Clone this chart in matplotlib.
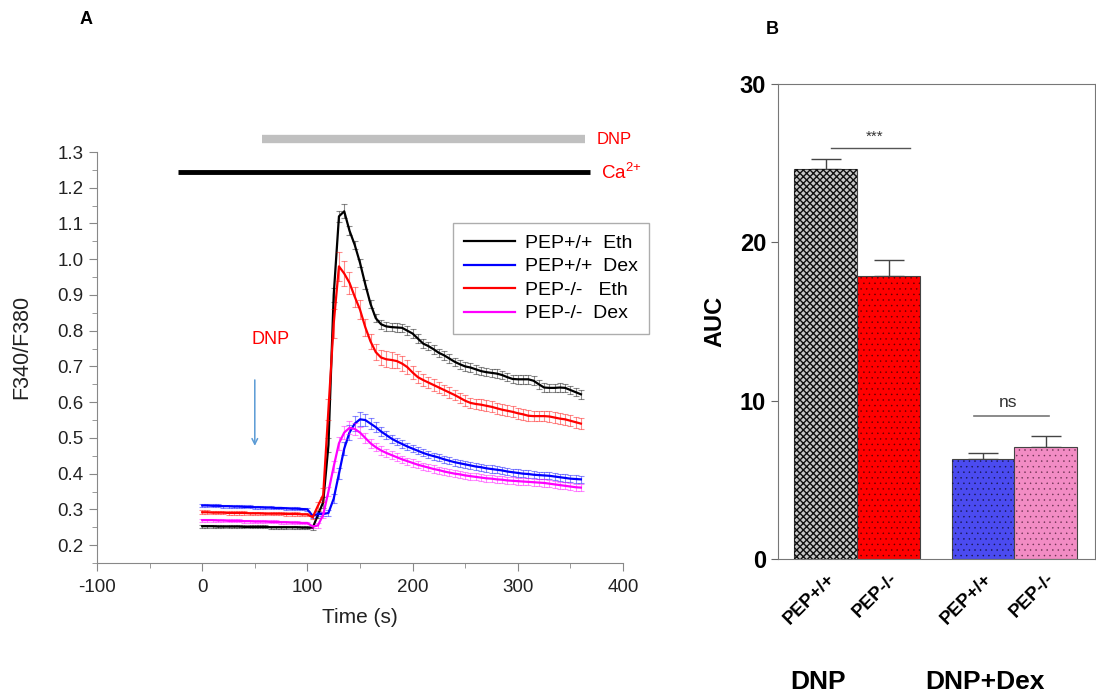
import matplotlib
matplotlib.use('Agg')
import matplotlib.pyplot as plt
from matplotlib.ticker import MultipleLocator

plt.rcParams['font.family'] = ['Liberation Sans', 'DejaVu Sans']
plt.rcParams['axes.unicode_minus'] = False

# ---- panel A: Fura-2 ratio traces ----
time_s = [0, 5, 10, 15, 20, 25, 30, 35, 40, 45, 50, 55, 60, 65, 70, 75, 80, 85, 90, 95, 100,
          105, 110, 115, 120, 125, 130, 135, 140, 145, 150, 155, 160, 165, 170, 175, 180, 185,
          190, 195, 200, 205, 210, 215, 220, 225, 230, 235, 240, 245, 250, 255, 260, 265, 270,
          275, 280, 285, 290, 295, 300, 305, 310, 315, 320, 325, 330, 335, 340, 345, 350, 355, 360]

wt_eth = [0.253, 0.253, 0.253, 0.252, 0.252, 0.252, 0.252, 0.252, 0.251, 0.251, 0.251, 0.251, 0.251,
          0.250, 0.250, 0.250, 0.250, 0.250, 0.250, 0.249, 0.249,
          0.248, 0.285, 0.320, 0.480, 0.900, 1.120, 1.134, 1.080, 1.040, 0.990,
          0.930, 0.875, 0.835, 0.818, 0.812, 0.810, 0.809, 0.808, 0.800, 0.792,
          0.778, 0.764, 0.757, 0.748, 0.738, 0.731, 0.722, 0.713, 0.706, 0.700,
          0.697, 0.692, 0.687, 0.684, 0.682, 0.680, 0.676, 0.670, 0.665, 0.664,
          0.664, 0.664, 0.660, 0.650, 0.641, 0.640, 0.640, 0.641, 0.640, 0.634,
          0.628, 0.622]
wt_dex = [0.311, 0.311, 0.310, 0.310, 0.309, 0.309, 0.308, 0.308, 0.307, 0.307, 0.306, 0.306, 0.305,
          0.305, 0.304, 0.304, 0.303, 0.302, 0.302, 0.301, 0.300,
          0.282, 0.287, 0.287, 0.290, 0.330, 0.400, 0.470, 0.515, 0.540, 0.552,
          0.550, 0.540, 0.530, 0.518, 0.508, 0.498, 0.490, 0.483, 0.476, 0.470,
          0.464, 0.458, 0.453, 0.449, 0.445, 0.440, 0.436, 0.432, 0.429, 0.426,
          0.423, 0.420, 0.418, 0.415, 0.413, 0.411, 0.409, 0.406, 0.404, 0.402,
          0.400, 0.399, 0.397, 0.396, 0.395, 0.394, 0.392, 0.390, 0.388, 0.386,
          0.385, 0.384]
ko_eth = [0.292, 0.292, 0.291, 0.291, 0.291, 0.290, 0.290, 0.290, 0.290, 0.289, 0.289, 0.289, 0.288,
          0.288, 0.288, 0.288, 0.287, 0.287, 0.287, 0.286, 0.286,
          0.278, 0.310, 0.340, 0.580, 0.820, 0.980, 0.960, 0.934, 0.895, 0.859,
          0.810, 0.770, 0.740, 0.725, 0.720, 0.718, 0.715, 0.708, 0.698, 0.683,
          0.670, 0.662, 0.655, 0.648, 0.641, 0.634, 0.627, 0.620, 0.612, 0.604,
          0.598, 0.595, 0.593, 0.590, 0.587, 0.583, 0.579, 0.576, 0.573, 0.569,
          0.566, 0.562, 0.561, 0.561, 0.561, 0.560, 0.557, 0.554, 0.552, 0.548,
          0.544, 0.540]
ko_dex = [0.270, 0.270, 0.270, 0.269, 0.269, 0.268, 0.268, 0.268, 0.267, 0.267, 0.266, 0.266, 0.266,
          0.265, 0.265, 0.264, 0.264, 0.263, 0.263, 0.262, 0.262,
          0.252, 0.255, 0.285, 0.350, 0.420, 0.485, 0.515, 0.528, 0.525, 0.515,
          0.500, 0.485, 0.474, 0.465, 0.458, 0.452, 0.446, 0.440, 0.435, 0.430,
          0.425, 0.421, 0.417, 0.413, 0.410, 0.406, 0.403, 0.400, 0.398, 0.395,
          0.393, 0.391, 0.389, 0.387, 0.386, 0.384, 0.383, 0.381, 0.380, 0.379,
          0.378, 0.377, 0.376, 0.375, 0.374, 0.372, 0.370, 0.368, 0.366, 0.364,
          0.362, 0.361]

# SEM
wt_eth_err = [0.004, 0.004, 0.004, 0.004, 0.004, 0.004, 0.004, 0.004, 0.004, 0.004, 0.004, 0.004, 0.004,
              0.004, 0.004, 0.004, 0.004, 0.004, 0.004, 0.004, 0.004,
              0.005, 0.010, 0.015, 0.020, 0.020, 0.015, 0.020, 0.012, 0.012, 0.012,
              0.012, 0.012, 0.012, 0.012, 0.012, 0.012, 0.012, 0.012, 0.012, 0.012,
              0.012, 0.012, 0.012, 0.012, 0.012, 0.012, 0.012, 0.012, 0.012, 0.012,
              0.012, 0.012, 0.012, 0.012, 0.012, 0.012, 0.012, 0.012, 0.012, 0.012,
              0.012, 0.012, 0.012, 0.012, 0.012, 0.012, 0.012, 0.012, 0.012, 0.012,
              0.012, 0.012]
wt_dex_err = [0.004, 0.004, 0.004, 0.004, 0.004, 0.004, 0.004, 0.004, 0.004, 0.004, 0.004, 0.004, 0.004,
              0.004, 0.004, 0.004, 0.004, 0.004, 0.004, 0.004, 0.004,
              0.005, 0.005, 0.006, 0.008, 0.012, 0.015, 0.018, 0.020, 0.020, 0.020,
              0.018, 0.016, 0.014, 0.012, 0.012, 0.011, 0.011, 0.010, 0.010, 0.010,
              0.010, 0.010, 0.010, 0.010, 0.010, 0.010, 0.010, 0.010, 0.010, 0.010,
              0.010, 0.010, 0.010, 0.010, 0.010, 0.010, 0.010, 0.010, 0.010, 0.010,
              0.010, 0.010, 0.010, 0.010, 0.010, 0.010, 0.010, 0.010, 0.010, 0.010,
              0.010, 0.010]
ko_eth_err = [0.005, 0.005, 0.005, 0.005, 0.005, 0.005, 0.005, 0.005, 0.005, 0.005, 0.005, 0.005, 0.005,
              0.005, 0.005, 0.005, 0.005, 0.005, 0.005, 0.005, 0.005,
              0.006, 0.012, 0.020, 0.030, 0.040, 0.040, 0.035, 0.030, 0.028, 0.026,
              0.024, 0.022, 0.022, 0.022, 0.022, 0.021, 0.020, 0.020, 0.019, 0.018,
              0.017, 0.016, 0.016, 0.016, 0.015, 0.015, 0.015, 0.015, 0.015, 0.015,
              0.015, 0.015, 0.015, 0.015, 0.015, 0.015, 0.015, 0.015, 0.015, 0.015,
              0.015, 0.015, 0.015, 0.015, 0.015, 0.015, 0.015, 0.015, 0.015, 0.015,
              0.015, 0.015]
ko_dex_err = [0.004, 0.004, 0.004, 0.004, 0.004, 0.004, 0.004, 0.004, 0.004, 0.004, 0.004, 0.004, 0.004,
              0.004, 0.004, 0.004, 0.004, 0.004, 0.004, 0.004, 0.004,
              0.005, 0.006, 0.008, 0.012, 0.015, 0.018, 0.018, 0.018, 0.016, 0.015,
              0.014, 0.013, 0.012, 0.012, 0.011, 0.011, 0.011, 0.010, 0.010, 0.010,
              0.010, 0.010, 0.010, 0.010, 0.010, 0.010, 0.010, 0.010, 0.010, 0.010,
              0.010, 0.010, 0.010, 0.010, 0.010, 0.010, 0.010, 0.010, 0.010, 0.010,
              0.010, 0.010, 0.010, 0.010, 0.010, 0.010, 0.010, 0.010, 0.010, 0.010,
              0.010, 0.010]

trace_labels = ['PEP+/+  Eth', 'PEP+/+  Dex', 'PEP-/-   Eth', 'PEP-/-  Dex']
trace_colors = ['#000000', '#0000ff', '#ff0000', '#ff00ff']

ca_span = [-23, 369]
dnp_span = [57, 364]

# ---- panel B: AUC ----
auc_labels = ['PEP+/+', 'PEP-/-', 'PEP+/+', 'PEP-/-']
auc_values = [24.6, 17.9, 6.3, 7.1]
auc_err = [0.65, 1.0, 0.42, 0.67]
auc_colors = ['#c8c8c8', '#ff0000', '#4b4bf0', '#f28cc4']
auc_pos = [0, 1, 2.5, 3.5]
group_labels = ['DNP', 'DNP+Dex']

fig = plt.figure(figsize=(10.96, 6.94), dpi=100)

axA = fig.add_axes([97 / 1096, 1 - 563 / 694, (623 - 97) / 1096, (563 - 152) / 694])
series = [(wt_eth, wt_eth_err), (wt_dex, wt_dex_err), (ko_eth, ko_eth_err), (ko_dex, ko_dex_err)]
for (vals, errs), lab, col in zip(series, trace_labels, trace_colors):
    axA.errorbar(time_s, vals, yerr=errs, fmt='none', ecolor=col, alpha=0.45,
                 elinewidth=0.8, capsize=2.5, capthick=0.8)
    axA.plot(time_s, vals, color=col, lw=1.6, label=lab)

axA.set_xlim(-100, 400)
axA.set_ylim(0.15, 1.3)
axA.xaxis.set_major_locator(MultipleLocator(100))
axA.xaxis.set_minor_locator(MultipleLocator(50))
axA.yaxis.set_minor_locator(MultipleLocator(0.05))
axA.set_yticks([0.2, 0.3, 0.4, 0.5, 0.6, 0.7, 0.8, 0.9, 1.0, 1.1, 1.2, 1.3])
axA.set_yticklabels(['0.2', '0.3', '0.4', '0.5', '0.6', '0.7', '0.8', '0.9', '1.0', '1.1', '1.2', '1.3'])
for s in ['top', 'right']:
    axA.spines[s].set_visible(False)
for s in ['left', 'bottom']:
    axA.spines[s].set_color('#888888')
axA.tick_params(which='both', colors='#888888', labelcolor='#222222', labelsize=13.5)
axA.tick_params(which='major', length=5.5)
axA.tick_params(which='minor', length=3.5)
axA.tick_params(axis='x', which='major', pad=6)
axA.tick_params(axis='y', which='major', pad=4)
axA.set_xlabel('Time (s)', fontsize=15, color='#222222', labelpad=9)
axA.set_ylabel('F340/F380', fontsize=15.5, color='#222222')
axA.yaxis.set_label_coords(-0.124, 0.526)

# solution bars above the traces
axA.plot(ca_span, [1.245, 1.245], color='black', lw=3.5, clip_on=False, solid_capstyle='butt')
axA.plot(dnp_span, [1.336, 1.336], color='#c0c0c0', lw=6, clip_on=False, solid_capstyle='butt')
axA.text(375, 1.336, 'DNP', color='red', fontsize=12, va='center', ha='left')
axA.text(379, 1.243, r'Ca$^{\mathregular{2{+}}}$', color='red', fontsize=13.5, va='center', ha='left')

axA.text(65, 0.775, 'DNP', color='red', fontsize=13, ha='center', va='center')
axA.annotate('', xy=(50, 0.47), xytext=(50, 0.67),
             arrowprops=dict(arrowstyle='->', color='#5b9bd5', lw=1.1))

fig.legend(loc='upper left', bbox_to_anchor=(443 / 1096, 1 - 213 / 694), fontsize=14,
           frameon=True, fancybox=False, edgecolor='#999999', handlelength=2.6,
           labelspacing=0.3, borderpad=0.6, handletextpad=0.5)

# ---- panel B ----
axB = fig.add_axes([778 / 1096, 1 - 559 / 694, (1095 - 778) / 1096, (559 - 84) / 694])
hatches = ['xxxxx', '...', '...', '...']
hatch_colors = ['#111111', '#5a0000', '#15154a', '#6a3050']
hatch_widths = [1.0, 0.3, 0.3, 0.3]
for x, v, e, c, h, hc, hw in zip(auc_pos, auc_values, auc_err, auc_colors, hatches,
                                 hatch_colors, hatch_widths):
    axB.bar(x, v, width=1.0, color=c, edgecolor='#444444', lw=0.8, zorder=2)
    plt.rcParams['hatch.linewidth'] = hw
    axB.bar(x, v, width=1.0, fill=False, hatch=h, edgecolor=hc, lw=0, zorder=3)
    axB.errorbar(x, v, yerr=[[0], [e]], fmt='none', ecolor='#444444', elinewidth=1.0,
                 capsize=11, capthick=1.0, zorder=1)

axB.set_xlim(-0.76, 4.28)
axB.set_ylim(0, 30)
axB.set_yticks([0, 10, 20, 30])
axB.set_xticks(auc_pos)
axB.set_xticklabels(auc_labels, rotation=45, ha='right', va='top', rotation_mode='anchor',
                    fontsize=13.5, fontweight='bold')
axB.tick_params(axis='x', length=0, pad=8)
axB.tick_params(axis='y', length=5, colors='#666666', labelcolor='black', labelsize=17)
for lab in axB.get_yticklabels():
    lab.set_fontweight('bold')
for s in axB.spines.values():
    s.set_color('#777777')
axB.set_ylabel('AUC', fontsize=17, fontweight='bold', labelpad=10)

# significance markers
axB.plot([0.09, 1.34], [25.97, 25.97], color='#555555', lw=1.0)
axB.text(0.77, 26.2, '***', ha='center', va='bottom', fontsize=11, color='#333333')
axB.plot([2.36, 3.55], [9.05, 9.05], color='#777777', lw=1.2)
axB.text(2.9, 9.4, 'ns', ha='center', va='bottom', fontsize=12.5, color='#333333')

fig.text(818 / 1096, 1 - 682 / 694, group_labels[0], ha='center', va='center',
         fontsize=19, fontweight='bold')
fig.text(985 / 1096, 1 - 682 / 694, group_labels[1], ha='center', va='center',
         fontsize=19, fontweight='bold')

fig.text(86 / 1096, 1 - 20 / 694, 'A', fontsize=13, fontweight='bold', ha='center', va='center')
fig.text(772 / 1096, 1 - 30 / 694, 'B', fontsize=13, fontweight='bold', ha='center', va='center')

fig.savefig('out.png', dpi=100)
